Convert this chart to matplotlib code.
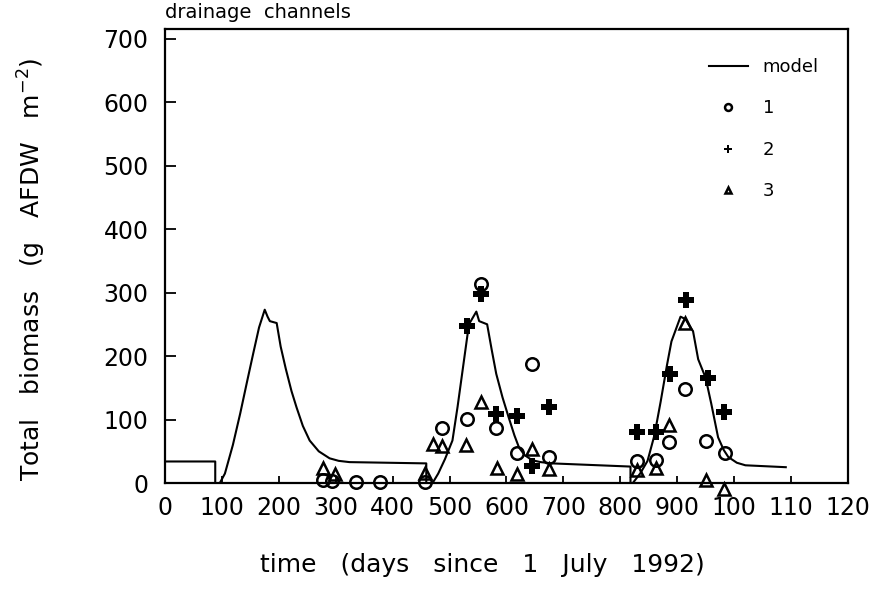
import numpy as np
import matplotlib.pyplot as plt

# model curve (days since 1 July 1992, g AFDW m-2)
model_t = [0, 88, 88, 96, 105, 119, 132, 144, 155, 165, 175, 180, 184, 196, 203, 212, 222, 231,
           242, 254, 270, 289, 305, 324,
           459, 459, 470, 480, 492, 505, 514, 522, 534, 547, 552, 566, 574, 582, 593, 604, 614,
           622, 632, 645, 660, 680,
           818, 818, 822, 835, 848, 860, 871, 882, 890, 906, 915, 920, 928, 937, 950, 960, 972,
           982, 990, 1005, 1020, 1091]
model_b = [34, 34, 0, 0, 15, 60, 110, 160, 205, 245, 273, 262, 255, 252, 215, 180, 145, 119,
           90, 67, 50, 39, 35, 33,
           31, 0, 0, 15, 38, 67, 120, 172, 250, 270, 255, 250, 210, 172, 135, 103, 75,
           56, 44, 36, 33, 31,
           26, 0, 0, 15, 35, 75, 128, 185, 223, 262, 258, 250, 239, 195, 166, 125, 72,
           52, 41, 32, 28, 25]

# observations
t1 = [277, 294, 336, 377, 456, 487, 531, 555, 582, 618, 645, 675, 829, 862, 885, 913, 951, 985]
b1 = [5, 3, 2, 2, 2, 87, 101, 314, 87, 47, 187, 41, 34, 36, 64, 148, 66, 47]

t2 = [531, 555, 582, 618, 645, 675, 829, 862, 888, 915, 955, 983]
b2 = [247, 297, 109, 106, 27, 120, 80, 80, 172, 289, 166, 112]

t3 = [277, 298, 456, 470, 487, 529, 555, 583, 618, 645, 675, 829, 862, 885, 913, 951, 983]
b3 = [24, 14, 16, 62, 59, 60, 127, 23, 15, 53, 22, 20, 23, 91, 252, 5, -10]

xticks = np.arange(0, 1201, 100)
xlabels = ['0', '100', '200', '300', '400', '500', '600', '700', '800', '900', '100', '110', '120']
yticks = np.arange(0, 701, 100)

fig = plt.figure(figsize=(8.74, 5.92), dpi=100)
ax = fig.add_axes([0.189, 0.184, 0.781, 0.767])

ax.plot(model_t, model_b, color='black', lw=1.5, label='model')
ax.plot(t1, b1, 'o', ms=9, mfc='none', mec='black', mew=1.8, label='1', clip_on=False)
ax.plot(t2, b2, 'P', ms=11, color='black', mew=0, label='2', clip_on=False)
ax.plot(t3, b3, '^', ms=9, mfc='none', mec='black', mew=1.8, label='3', clip_on=False)

ax.set_xlim(0, 1200)
ax.set_ylim(0, 715)
ax.set_xticks(xticks, xlabels)
ax.set_yticks(yticks)
ax.tick_params(axis='both', direction='in', labelsize=17, width=1.3)
ax.tick_params(axis='x', length=5, pad=9)
ax.tick_params(axis='y', length=8, pad=12)
for s in ax.spines.values():
    s.set_linewidth(1.6)

ax.set_xlabel('time   (days   since   1   July   1992)', fontsize=18, labelpad=24, x=0.465)
ax.set_ylabel('Total   biomass   (g   AFDW   m$^{-2}$)', fontsize=18, labelpad=40, y=0.47)
ax.text(0, 1.015, 'drainage  channels', transform=ax.transAxes, fontsize=14,
        ha='left', va='bottom')

ax.legend(loc='upper right', frameon=False, fontsize=13, markerscale=0.55,
          labelspacing=1.3, handlelength=2.2, borderaxespad=1.2)

fig.savefig('out.png', dpi=100)
